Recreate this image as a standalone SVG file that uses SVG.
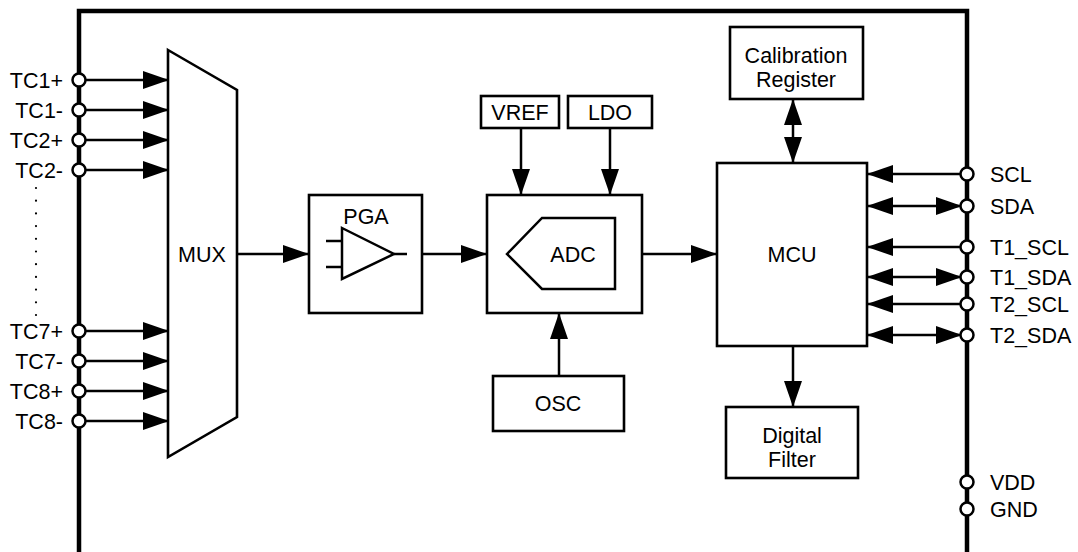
<svg xmlns="http://www.w3.org/2000/svg" width="1078" height="552" viewBox="0 0 1078 552">
<defs>
<style>
.t{font-family:"Liberation Sans",Arial,sans-serif;font-size:21.5px;fill:#000}
.m{text-anchor:middle}
.e{text-anchor:end}
.box{fill:#fff;stroke:#000;stroke-width:2.6}
.ln{fill:none;stroke:#000;stroke-width:2.5}
.pin{fill:#fff;stroke:#000;stroke-width:2.5}
.a{marker-end:url(#ah)}
.b{marker-start:url(#ah);marker-end:url(#ah)}
</style>
<marker id="ah" viewBox="0 0 26 18" refX="25" refY="9" markerWidth="26" markerHeight="18" markerUnits="userSpaceOnUse" orient="auto-start-reverse">
<path d="M0,0 L26,9 L0,18 Z" fill="#000"/>
</marker>
</defs>
<rect width="1078" height="552" fill="#fff"/>
<g id="frame">
<path d="M79,552 V11 H967 V552" fill="none" stroke="#000" stroke-width="4.5"/>
</g>
<g id="connectors">
<line class="ln a" x1="85" y1="80" x2="168" y2="80"/>
<line class="ln a" x1="85" y1="110" x2="168" y2="110"/>
<line class="ln a" x1="85" y1="140" x2="168" y2="140"/>
<line class="ln a" x1="85" y1="170" x2="168" y2="170"/>
<line class="ln a" x1="85" y1="331" x2="168" y2="331"/>
<line class="ln a" x1="85" y1="361" x2="168" y2="361"/>
<line class="ln a" x1="85" y1="391" x2="168" y2="391"/>
<line class="ln a" x1="85" y1="421" x2="168" y2="421"/>
<line x1="36" y1="188" x2="36" y2="318" stroke="#000" stroke-width="2.2" stroke-linecap="round" stroke-dasharray="0 12.7"/>
<line class="ln a" x1="237" y1="254" x2="308" y2="254"/>
<line class="ln a" x1="422" y1="254" x2="486" y2="254"/>
<line class="ln a" x1="642" y1="254" x2="716" y2="254"/>
<line class="ln a" x1="521" y1="128" x2="521" y2="194"/>
<line class="ln a" x1="610" y1="128" x2="610" y2="194"/>
<line class="ln a" x1="559" y1="376" x2="559" y2="314"/>
<line class="ln b" x1="793" y1="100" x2="793" y2="162"/>
<line class="ln a" x1="793" y1="346" x2="793" y2="406"/>
<line class="ln a" x1="961" y1="174" x2="868" y2="174"/>
<line class="ln b" x1="868" y1="206" x2="961" y2="206"/>
<line class="ln a" x1="961" y1="247" x2="868" y2="247"/>
<line class="ln b" x1="868" y1="277" x2="961" y2="277"/>
<line class="ln a" x1="961" y1="304" x2="868" y2="304"/>
<line class="ln b" x1="868" y1="335" x2="961" y2="335"/>
</g>
<g id="pins-left">
<circle class="pin" cx="79" cy="80" r="6.5"/><text class="t e" x="63" y="88">TC1+</text>
<circle class="pin" cx="79" cy="110" r="6.5"/><text class="t e" x="63" y="118">TC1-</text>
<circle class="pin" cx="79" cy="140" r="6.5"/><text class="t e" x="63" y="148">TC2+</text>
<circle class="pin" cx="79" cy="170" r="6.5"/><text class="t e" x="63" y="178">TC2-</text>
<circle class="pin" cx="79" cy="331" r="6.5"/><text class="t e" x="63" y="339">TC7+</text>
<circle class="pin" cx="79" cy="361" r="6.5"/><text class="t e" x="63" y="369">TC7-</text>
<circle class="pin" cx="79" cy="391" r="6.5"/><text class="t e" x="63" y="399">TC8+</text>
<circle class="pin" cx="79" cy="421" r="6.5"/><text class="t e" x="63" y="429">TC8-</text>
</g>
<g id="pins-right">
<circle class="pin" cx="967" cy="174" r="6.5"/><text class="t" x="990" y="182">SCL</text>
<circle class="pin" cx="967" cy="206" r="6.5"/><text class="t" x="990" y="214">SDA</text>
<circle class="pin" cx="967" cy="247" r="6.5"/><text class="t" x="990" y="255">T1_SCL</text>
<circle class="pin" cx="967" cy="277" r="6.5"/><text class="t" x="990" y="285">T1_SDA</text>
<circle class="pin" cx="967" cy="304" r="6.5"/><text class="t" x="990" y="312">T2_SCL</text>
<circle class="pin" cx="967" cy="335" r="6.5"/><text class="t" x="990" y="343">T2_SDA</text>
<circle class="pin" cx="967" cy="482" r="6.5"/><text class="t" x="990" y="490">VDD</text>
<circle class="pin" cx="967" cy="509" r="6.5"/><text class="t" x="990" y="517">GND</text>
</g>
<g id="mux">
<polygon class="box" points="168,50 237,90 237,417 168,457"/>
<text class="t m" x="202" y="262">MUX</text>
</g>
<g id="pga">
<rect class="box" x="309" y="195" width="113" height="118"/>
<text class="t m" x="366" y="224">PGA</text>
<polygon class="ln" points="342,228 394,254 342,279"/>
<line class="ln" x1="326" y1="241" x2="342" y2="241"/>
<line class="ln" x1="326" y1="267" x2="342" y2="267"/>
<line class="ln" x1="394" y1="254" x2="407" y2="254"/>
</g>
<g id="adc">
<rect class="box" x="487" y="195" width="155" height="118"/>
<polygon class="ln" points="507,254 542,218 615,218 615,289 542,289"/>
<text class="t m" x="573" y="262">ADC</text>
</g>
<g id="vref">
<rect class="box" x="481" y="96" width="78" height="32"/>
<text class="t m" x="520" y="120">VREF</text>
</g>
<g id="ldo">
<rect class="box" x="568" y="96" width="84" height="32"/>
<text class="t m" x="610" y="120">LDO</text>
</g>
<g id="osc">
<rect class="box" x="493" y="376" width="131" height="55"/>
<text class="t m" x="558" y="411">OSC</text>
</g>
<g id="calreg">
<rect class="box" x="730" y="27" width="133" height="72"/>
<text class="t m" x="796" y="63">Calibration</text>
<text class="t m" x="796" y="87">Register</text>
</g>
<g id="mcu">
<rect class="box" x="717" y="163" width="150" height="183"/>
<text class="t m" x="792" y="262">MCU</text>
</g>
<g id="filter">
<rect class="box" x="726" y="407" width="132" height="71"/>
<text class="t m" x="792" y="443">Digital</text>
<text class="t m" x="792" y="467">Filter</text>
</g>
</svg>
